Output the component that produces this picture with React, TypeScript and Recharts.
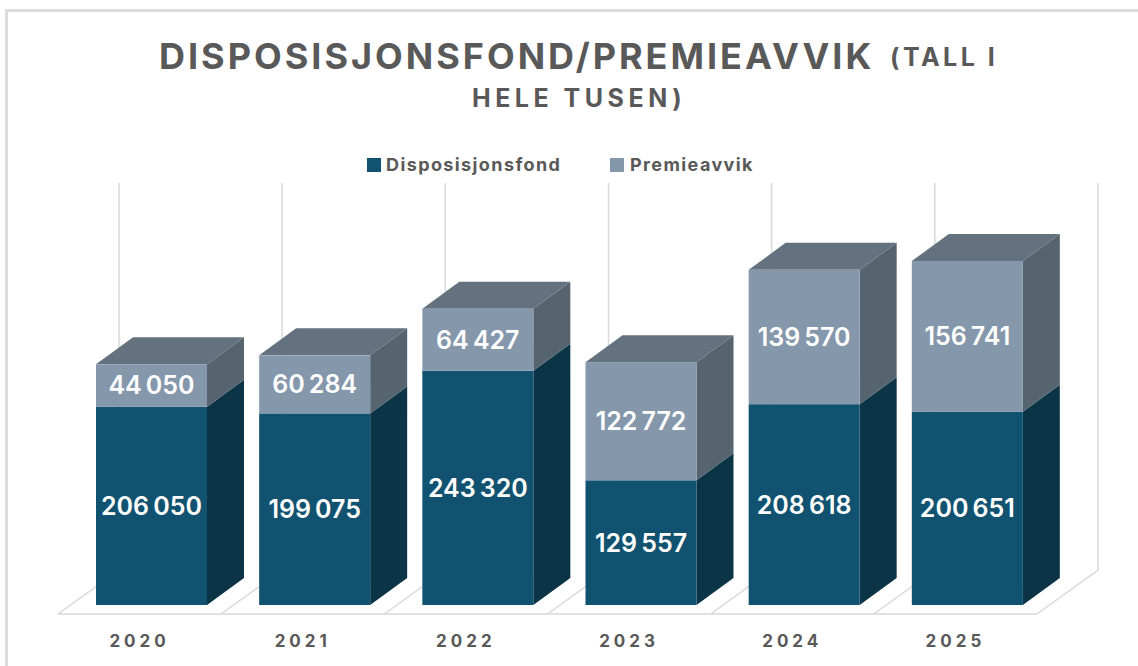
import { Bar, BarChart, CartesianGrid, LabelList, Legend, XAxis, YAxis } from "recharts"

const years = ["2020", "2021", "2022", "2023", "2024", "2025"]
const disposisjonsfond = [206050, 199075, 243320, 129557, 208618, 200651]
const premieavvik = [44050, 60284, 64427, 122772, 139570, 156741]
const yMax = 400000

const data = years.map((year, i) => ({
  year,
  Disposisjonsfond: disposisjonsfond[i],
  Premieavvik: premieavvik[i],
}))

// 3D-effekt: dybde og forskyvning av søylene
const DX = 37
const DY = 27
const SHIFT = 12
const WALL_DX = 61
const WALL_DY = 44
const FLOOR_Y = 614
const WALL_TOP = 183
const FONT = "Inter, 'Open Sans', sans-serif"

const DARK = { front: "#115270", side: "#0b3547" }
const LIGHT = { front: "#8497ab", side: "#55646f", top: "#64727f" }

const fmt = (v: number) => {
  const s = String(v)
  return s.slice(0, -3) + "\u2009" + s.slice(-3)
}

function Box3D(props: any) {
  const { x, y, width, height, colors } = props
  const l = x + SHIFT
  const r = l + width
  const b = y + height
  return (
    <g>
      <path d={`M${r} ${y}L${r + DX} ${y - DY}L${r + DX} ${b - DY}L${r} ${b}Z`} fill={colors.side} />
      {colors.top && (
        <path d={`M${l} ${y}L${l + DX} ${y - DY}L${r + DX} ${y - DY}L${r} ${y}Z`} fill={colors.top} />
      )}
      <rect x={l} y={y} width={width} height={height} fill={colors.front} />
    </g>
  )
}

function ValueLabel(props: any) {
  const { x, y, width, height, value } = props
  return (
    <text
      x={x + SHIFT + width / 2}
      y={y + height / 2}
      fill="#ffffff"
      textAnchor="middle"
      dominantBaseline="central"
      fontFamily={FONT}
      fontWeight={600}
      fontSize={25}
    >
      {fmt(value)}
    </text>
  )
}

function WallLine(props: any) {
  const { x1 } = props
  const floorBack = FLOOR_Y - WALL_DY
  return (
    <path
      d={`M${x1} ${FLOOR_Y}L${x1 + WALL_DX} ${floorBack}L${x1 + WALL_DX} ${WALL_TOP}`}
      fill="none"
      stroke="#d9d9d9"
      strokeWidth={1.5}
    />
  )
}

function YearTick(props: any) {
  const { x, y, payload } = props
  return (
    <text
      x={x}
      y={y + 28}
      textAnchor="middle"
      dominantBaseline="central"
      fill="#595959"
      fontFamily={FONT}
      fontWeight={700}
      fontSize={17}
      letterSpacing={4}
    >
      {payload.value}
    </text>
  )
}

function LegendRow() {
  const items = [
    { name: "Disposisjonsfond", color: DARK.front, left: 367, gap: 5 },
    { name: "Premieavvik", color: LIGHT.front, left: 610, gap: 6 },
  ]
  return (
    <div style={{ position: "relative", height: 20 }}>
      {items.map((it) => (
        <div key={it.name} style={{ position: "absolute", left: it.left, top: 0, display: "flex", alignItems: "center" }}>
          <span style={{ width: 14, height: 14, background: it.color, marginRight: it.gap }} />
          <span style={{ color: "#595959", fontFamily: FONT, fontWeight: 700, fontSize: 18, letterSpacing: 1.4 }}>{it.name}</span>
        </div>
      ))}
    </div>
  )
}

export default function App() {
  const titleStyle = {
    position: "absolute" as const,
    color: "#595959",
    fontFamily: FONT,
    fontWeight: 700,
    whiteSpace: "nowrap" as const,
  }
  return (
    <div style={{ position: "fixed", left: 0, top: 0, width: 1138, height: 666, background: "#fff", overflow: "hidden" }}>
      <div style={{ position: "absolute", left: 5, top: 9, right: 0, bottom: 0, borderLeft: "3px solid #dcdcdc", borderTop: "3px solid #dcdcdc" }} />
      <div style={{ ...titleStyle, left: 159, top: 34, fontSize: 36, letterSpacing: 3 }}>
        DISPOSISJONSFOND/PREMIEAVVIK
      </div>
      <div style={{ ...titleStyle, left: 890, top: 42, fontSize: 25, letterSpacing: 3.5 }}>(TALL I</div>
      <div style={{ ...titleStyle, left: 472, top: 83, fontSize: 25, letterSpacing: 4.5 }}>HELE TUSEN)</div>
      <BarChart
        width={1138}
        height={666}
        data={data}
        barSize={111}
        margin={{ top: 200, right: 101, bottom: 0, left: 58 }}
        style={{ position: "absolute", left: 0, top: 0 }}
      >
        <CartesianGrid
          vertical={<WallLine />}
          stroke="#d9d9d9"
          strokeWidth={1.5}
          horizontalCoordinatesGenerator={() => [FLOOR_Y]}
          verticalCoordinatesGenerator={({ offset }: any) =>
            [0, 1, 2, 3, 4, 5, 6].map((i) => offset.left + (i * offset.width) / years.length)
          }
        />
        <XAxis dataKey="year" axisLine={false} tickLine={false} height={61} tick={<YearTick />} />
        <YAxis hide domain={[0, yMax]} />
        <Legend
          verticalAlign="top"
          content={<LegendRow />}
          wrapperStyle={{ position: "absolute", left: 0, top: 154, width: 1138 }}
        />
        <Bar
          dataKey="Disposisjonsfond"
          stackId="a"
          fill={DARK.front}
          isAnimationActive={false}
          shape={<Box3D colors={DARK} />}
        >
          <LabelList dataKey="Disposisjonsfond" content={<ValueLabel />} />
        </Bar>
        <Bar
          dataKey="Premieavvik"
          stackId="a"
          fill={LIGHT.front}
          isAnimationActive={false}
          shape={<Box3D colors={LIGHT} />}
        >
          <LabelList dataKey="Premieavvik" content={<ValueLabel />} />
        </Bar>
      </BarChart>
    </div>
  )
}
